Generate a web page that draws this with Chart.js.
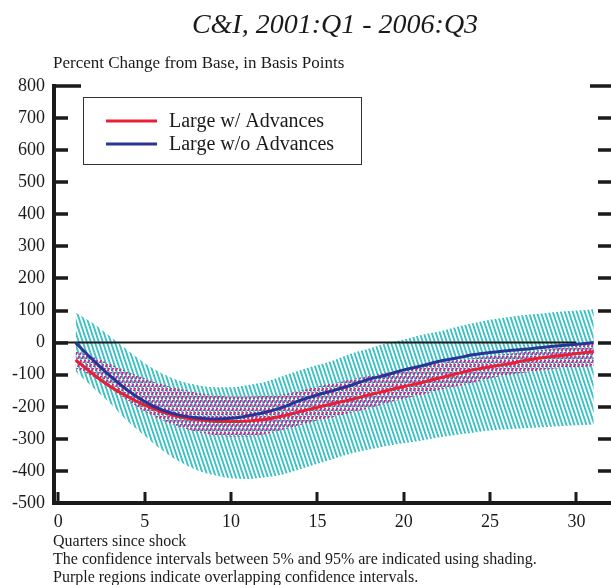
<!DOCTYPE html>
<html>
<head>
<meta charset="utf-8">
<script src="https://cdn.jsdelivr.net/npm/chart.js@4.4.0/dist/chart.umd.min.js"></script>
<style>
html, body { margin: 0; padding: 0; background: #fff; }
</style>
</head>
<body>
<canvas id="chart" width="611" height="585"></canvas>
<script>
// quarters since shock
const quarters = [1, 2, 3, 4, 5, 6, 7, 8, 9, 10, 11, 12, 13, 14, 15, 16, 17, 18, 19, 20, 21, 22, 23, 24, 25, 26, 27, 28, 29, 30, 31];

// Large w/ Advances
const withAdv = [-54, -98, -137, -168, -195, -216, -231, -240, -245, -246, -244, -239, -229, -215, -202, -189, -177, -163, -150, -137, -125, -111, -98, -85, -75, -67, -56, -47, -41, -34, -28];
const withAdvLo = [-80, -106, -142, -179, -215, -241, -262, -278, -288, -293, -293, -285, -272, -257, -243, -231, -218, -205, -189, -174, -163, -148, -137, -125, -111, -101, -94, -85, -80, -77, -74];
const withAdvHi = [-25, -44, -67, -90, -111, -130, -144, -156, -163, -168, -168, -166, -161, -150, -137, -127, -114, -104, -94, -83, -75, -64, -56, -49, -42, -35, -29, -23, -17, -10, -3];

// Large w/o Advances
const withoutAdv = [0, -54, -104, -148, -184, -210, -226, -234, -238, -236, -228, -217, -202, -180, -163, -148, -132, -114, -101, -85, -73, -59, -49, -38, -31, -25, -21, -15, -10, -5, 0];
const withoutAdvLo = [-90, -140, -189, -244, -290, -335, -371, -397, -413, -423, -425, -420, -411, -395, -378, -361, -345, -333, -322, -314, -306, -296, -288, -281, -274, -270, -267, -264, -261, -258, -255];
const withoutAdvHi = [94, 60, 19, -23, -64, -96, -119, -132, -139, -139, -132, -122, -104, -86, -70, -54, -33, -18, -2, 10, 24, 34, 48, 60, 71, 79, 86, 91, 96, 100, 104];

// zero reference line
const zeroX = [-0.25, 30];
const zeroY = [0, 0];

const xTicks = [0, 5, 10, 15, 20, 25, 30];
const yTicks = [800, 700, 600, 500, 400, 300, 200, 100, 0, -100, -200, -300, -400, -500];

const serif = "'Liberation Serif', 'Times New Roman', serif";
const ink = "#1a1a1a";

function pts(xs, ys) {
    return xs.map((x, i) => ({x: x, y: ys[i]}));
}

// diagonal hatching for the shaded intervals
function hatch(color, back, dashed, w, h, thick) {
    const c = document.createElement("canvas");
    c.width = w;
    c.height = h;
    const g = c.getContext("2d");
    g.fillStyle = color;
    for (let y = 0; y < h; y++) {
        if (dashed && (y % 4) === 3) continue;
        let x = y * w / h;
        if (back) x = w - x;
        g.fillRect(x, y, thick, 1);
        g.fillRect(x - w, y, thick, 1);
        g.fillRect(x + w, y, thick, 1);
    }
    return g.createPattern(c, "repeat");
}

const cyanHatch = hatch("rgb(62,194,196)", false, false, 4, 12, 2);
const pinkHatch = hatch("rgb(212,38,148)", true, true, 4, 8, 2);

const frame = {
    id: "frame",
    afterDraw(chart) {
        const ctx = chart.ctx;
        const area = chart.chartArea;
        const xs = chart.scales.x;
        const ys = chart.scales.y;
        ctx.save();

        // inward tick marks
        ctx.strokeStyle = ink;
        ctx.lineWidth = 3.5;
        ctx.beginPath();
        yTicks.forEach(v => {
            const py = Math.round(ys.getPixelForValue(v));
            const lenL = v === 800 ? 27 : 14;
            const lenR = v === 800 ? 21 : 13;
            ctx.moveTo(area.left, py);
            ctx.lineTo(area.left + lenL, py);
            ctx.moveTo(area.right - lenR, py);
            ctx.lineTo(area.right, py);
        });
        ctx.stroke();
        ctx.lineWidth = 3;
        ctx.beginPath();
        xTicks.forEach(v => {
            const px = Math.round(xs.getPixelForValue(v));
            ctx.moveTo(px, area.bottom);
            ctx.lineTo(px, area.bottom - 11);
        });
        ctx.stroke();

        // title and notes
        ctx.fillStyle = ink;
        ctx.textBaseline = "alphabetic";
        ctx.textAlign = "center";
        ctx.font = "italic 28px " + serif;
        ctx.fillText("C&I, 2001:Q1 - 2006:Q3", 335, 33);
        ctx.textAlign = "left";
        ctx.font = "17px " + serif;
        ctx.fillText("Percent Change from Base, in Basis Points", 53, 68);
        ctx.font = "16px " + serif;
        ctx.fillText("Quarters since shock", 53, 546);
        ctx.fillText("The confidence intervals between 5% and 95% are indicated using shading.", 53, 564);
        ctx.fillText("Purple regions indicate overlapping confidence intervals.", 53, 582);

        // legend
        ctx.fillStyle = "#fff";
        ctx.fillRect(83, 97, 279, 68);
        ctx.strokeStyle = "#333";
        ctx.lineWidth = 1;
        ctx.strokeRect(83.5, 97.5, 278, 67);
        const items = chart.data.datasets.filter(d => d.showInLegend);
        items.forEach((d, i) => {
            const y = 121 + i * 23;
            ctx.strokeStyle = d.borderColor;
            ctx.lineWidth = 3;
            ctx.beginPath();
            ctx.moveTo(106, y);
            ctx.lineTo(157, y);
            ctx.stroke();
            ctx.fillStyle = ink;
            ctx.font = "20px " + serif;
            ctx.textBaseline = "middle";
            ctx.fillText(d.label, 169, y + 1);
        });
        ctx.restore();
    }
};

new Chart(document.getElementById("chart"), {
    type: "line",
    data: {
        datasets: [
            {label: "w/o lo", data: pts(quarters, withoutAdvLo), borderWidth: 0, pointRadius: 0, fill: false, order: 10},
            {label: "w/o hi", data: pts(quarters, withoutAdvHi), borderWidth: 0, pointRadius: 0, fill: 0, backgroundColor: cyanHatch, order: 9},
            {label: "w/ lo", data: pts(quarters, withAdvLo), borderWidth: 0, pointRadius: 0, fill: false, order: 8},
            {label: "w/ hi", data: pts(quarters, withAdvHi), borderWidth: 0, pointRadius: 0, fill: 2, backgroundColor: pinkHatch, order: 7},
            {label: "zero", data: pts(zeroX, zeroY), borderColor: ink, borderWidth: 2, pointRadius: 0, fill: false, order: 3},
            {label: "Large w/ Advances", data: pts(quarters, withAdv), borderColor: "rgb(232,32,52)", borderWidth: 3, pointRadius: 0, fill: false, order: 2, showInLegend: true},
            {label: "Large w/o Advances", data: pts(quarters, withoutAdv), borderColor: "rgb(40,52,150)", borderWidth: 3, pointRadius: 0, fill: false, order: 1, showInLegend: true}
        ]
    },
    options: {
        responsive: false,
        animation: false,
        events: [],
        cubicInterpolationMode: "monotone",
        layout: {padding: {top: 86, right: 0, bottom: 52, left: 0}},
        plugins: {
            legend: {display: false},
            tooltip: {enabled: false}
        },
        scales: {
            x: {
                type: "linear",
                min: -0.25,
                max: 32,
                afterFit(scale) { scale.height = 30; },
                grid: {display: false, drawTicks: false},
                border: {display: true, color: ink, width: 4},
                ticks: {
                    stepSize: 5,
                    includeBounds: false,
                    padding: 8,
                    color: ink,
                    font: {family: serif, size: 18},
                    maxRotation: 0
                }
            },
            y: {
                min: -500,
                max: 800,
                afterFit(scale) { scale.width = 54; },
                grid: {display: false, drawTicks: false},
                border: {display: true, color: ink, width: 4},
                ticks: {
                    stepSize: 100,
                    padding: 9,
                    color: ink,
                    font: {family: serif, size: 18}
                }
            }
        }
    },
    plugins: [frame]
});
</script>
</body>
</html>
